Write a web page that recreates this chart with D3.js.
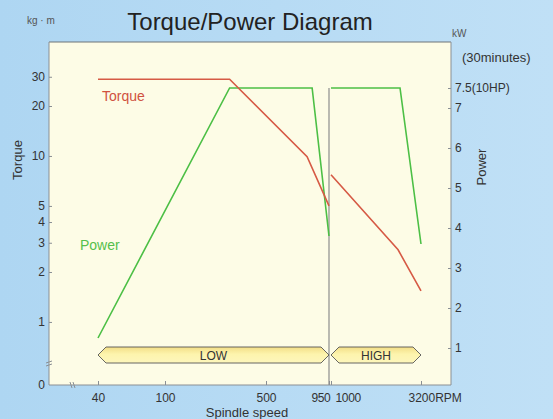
<!DOCTYPE html>
<html>
<head>
<meta charset="utf-8">
<script src="https://cdn.jsdelivr.net/npm/d3@7"></script>
<style>
  body { margin: 0; background: #b9dcf4; }
  svg { display: block; font-family: "Liberation Sans", Arial, sans-serif; }
</style>
</head>
<body>
<div id="chart"></div>
<script>
var svgWidth = 553;
var svgHeight = 419;

// data
var rpmTicks = [40, 100, 500, 950, 1000, 3200];
var torqueTicks = [1, 2, 3, 4, 5, 10, 20, 30];
var powerTicks = [1, 2, 3, 4, 5, 6, 7, 7.5];

var torqueLow = [[40, 29], [280, 29], [760, 9.9], [950, 5.0]];
var torqueHigh = [[1000, 7.7], [2380, 2.72], [3200, 1.54]];
var powerLow = [[40, 1.25], [280, 7.5], [800, 7.5], [950, 3.8]];
var powerHigh = [[1000, 7.5], [2440, 7.5], [3200, 3.6]];
var gearRanges = [
  { label: "LOW", from: 40, to: 950 },
  { label: "HIGH", from: 1000, to: 3200 }
];

var plot = { left: 49, right: 451, top: 42, bottom: 385 };

var svg = d3.select("#chart")
  .append("svg")
  .attr("width", svgWidth)
  .attr("height", svgHeight);

// page gradient
var defs = svg.append("defs");
var bg = defs.append("linearGradient").attr("id", "bg").attr("x1", 0).attr("x2", 1).attr("y1", 0).attr("y2", 0);
bg.append("stop").attr("offset", "0%").attr("stop-color", "#aed6f2");
bg.append("stop").attr("offset", "100%").attr("stop-color", "#c0e0f6");
var band = defs.append("linearGradient").attr("id", "band").attr("x1", 0).attr("x2", 0).attr("y1", 0).attr("y2", 1);
band.append("stop").attr("offset", "0%").attr("stop-color", "#f3de86");
band.append("stop").attr("offset", "45%").attr("stop-color", "#fdf4ad");
band.append("stop").attr("offset", "100%").attr("stop-color", "#fdf6bc");

svg.append("rect").attr("width", svgWidth).attr("height", svgHeight).attr("fill", "url(#bg)");

// scales: x is a schematic (piecewise log) rpm axis, torque log with broken bottom
var xScale = d3.scaleLog()
  .domain(rpmTicks)
  .range([98, 165, 266, 329, 331, 421]);

var yTorque = d3.scaleLog()
  .domain([0.417, 48.6])
  .range([plot.bottom, plot.top]);

var yPower = d3.scaleLinear()
  .domain([0.075, 8.65])
  .range([plot.bottom, plot.top]);

// plot area
svg.append("rect")
  .attr("x", plot.left)
  .attr("y", plot.top)
  .attr("width", plot.right - plot.left)
  .attr("height", plot.bottom - plot.top)
  .attr("fill", "#fdfce6");

svg.append("line")
  .attr("x1", plot.left).attr("x2", plot.right)
  .attr("y1", plot.top).attr("y2", plot.top)
  .attr("stroke", "#6f7478").attr("stroke-width", 1);

// axes
var xAxis = d3.axisBottom(xScale).tickValues(rpmTicks).tickSize(4).tickFormat(d => d);
var gx = svg.append("g")
  .attr("transform", `translate(0,${plot.bottom})`)
  .call(xAxis);
gx.select(".domain").attr("d", `M${plot.left},0H${plot.right}`);
gx.selectAll(".tick line").attr("y2", -4);
gx.selectAll(".tick text")
  .attr("y", 8)
  .attr("font-size", 12)
  .attr("font-family", "Liberation Sans, Arial, sans-serif")
  .attr("fill", "#333");
gx.selectAll(".tick").filter(d => d === 950).select("text").attr("text-anchor", "end").attr("dx", 1).attr("letter-spacing", -0.3);
gx.selectAll(".tick").filter(d => d === 1000).select("text").attr("text-anchor", "start").attr("dx", 4).attr("letter-spacing", -0.3);
gx.selectAll(".tick").filter(d => d === 3200).select("text").attr("text-anchor", "start").attr("dx", -13).text("3200RPM");

var yAxisL = d3.axisLeft(yTorque).tickValues(torqueTicks).tickSize(3).tickFormat(d => d);
var gl = svg.append("g")
  .attr("transform", `translate(${plot.left},0)`)
  .call(yAxisL);
gl.select(".domain").attr("d", `M0,${plot.top}V${plot.bottom}`);
gl.selectAll(".tick line").attr("x2", 3);
gl.selectAll(".tick text").attr("x", -4).attr("font-size", 12).attr("font-family", "Liberation Sans, Arial, sans-serif").attr("fill", "#333");
gl.append("text")
  .attr("x", -4).attr("y", plot.bottom).attr("dy", "0.32em")
  .attr("text-anchor", "end").attr("font-size", 12).attr("fill", "#333")
  .text("0");

var yAxisR = d3.axisRight(yPower).tickValues(powerTicks).tickSize(3)
  .tickFormat(d => d === 7.5 ? "7.5(10HP)" : d);
var gr = svg.append("g")
  .attr("transform", `translate(${plot.right},0)`)
  .call(yAxisR);
gr.select(".domain").attr("d", `M0,${plot.top}V${plot.bottom}`);
gr.selectAll(".tick line").attr("x2", -3);
gr.selectAll(".tick text").attr("x", 4).attr("font-size", 12).attr("font-family", "Liberation Sans, Arial, sans-serif").attr("fill", "#333");

svg.selectAll(".domain, .tick line").attr("stroke", "#8a8f94");

// axis break marks
svg.append("path")
  .attr("d", `M70,${plot.bottom - 3}l2,6M73,${plot.bottom - 3}l2,6M${plot.left - 3},363l6,-2M${plot.left - 3},366l6,-2`)
  .attr("stroke", "#8a8f94").attr("fill", "none");

// gear change line
svg.append("line")
  .attr("x1", xScale(950)).attr("x2", xScale(950))
  .attr("y1", yPower(7.5)).attr("y2", plot.bottom)
  .attr("stroke", "#8d8d8d").attr("stroke-width", 1.2);

// gear range arrows
var bandTop = 347, bandBottom = 363, bandMid = 355, tip = 8;
gearRanges.forEach(function(r) {
  var x0 = xScale(r.from), x1 = xScale(r.to);
  svg.append("path")
    .attr("d", `M${x0},${bandMid}L${x0 + tip},${bandTop}H${x1 - tip}L${x1},${bandMid}L${x1 - tip},${bandBottom}H${x0 + tip}Z`)
    .attr("fill", "url(#band)")
    .attr("stroke", "#555")
    .attr("stroke-width", 0.9);
  svg.append("text")
    .attr("x", (x0 + x1) / 2)
    .attr("y", bandMid + 4.5)
    .attr("text-anchor", "middle")
    .attr("font-size", 12)
    .attr("fill", "#333")
    .text(r.label);
});

// curves
var torqueLine = d3.line().x(d => xScale(d[0])).y(d => yTorque(d[1]));
var powerLine = d3.line().x(d => xScale(d[0])).y(d => yPower(d[1]));

[powerLow, powerHigh].forEach(function(s) {
  svg.append("path").datum(s)
    .attr("d", powerLine)
    .attr("fill", "none")
    .attr("stroke", "#4cbf45")
    .attr("stroke-width", 1.6);
});
[torqueLow, torqueHigh].forEach(function(s) {
  svg.append("path").datum(s)
    .attr("d", torqueLine)
    .attr("fill", "none")
    .attr("stroke", "#d65a45")
    .attr("stroke-width", 1.6);
});

// labels
svg.append("text")
  .attr("x", 102).attr("y", 101)
  .attr("font-size", 14).attr("fill", "#d0523f")
  .text("Torque");
svg.append("text")
  .attr("x", 80).attr("y", 250)
  .attr("font-size", 14).attr("fill", "#55c04c")
  .text("Power");

svg.append("text")
  .attr("x", 250).attr("y", 30)
  .attr("text-anchor", "middle")
  .attr("font-size", 24)
  .attr("fill", "#222")
  .text("Torque/Power Diagram");

svg.append("text")
  .attr("x", 27).attr("y", 24)
  .attr("font-size", 10).attr("fill", "#555")
  .text("kg · m");

svg.append("text")
  .attr("x", 452).attr("y", 37)
  .attr("font-size", 10).attr("fill", "#555")
  .text("kW");

svg.append("text")
  .attr("x", 462).attr("y", 62)
  .attr("font-size", 13).attr("fill", "#333")
  .text("(30minutes)");

svg.append("text")
  .attr("transform", "translate(22,160) rotate(-90)")
  .attr("text-anchor", "middle")
  .attr("font-size", 13).attr("fill", "#333")
  .text("Torque");

svg.append("text")
  .attr("transform", "translate(486,167) rotate(-90)")
  .attr("text-anchor", "middle")
  .attr("font-size", 13).attr("fill", "#333")
  .text("Power");

svg.append("text")
  .attr("x", 247).attr("y", 417)
  .attr("text-anchor", "middle")
  .attr("font-size", 13).attr("fill", "#333")
  .text("Spindle speed");
</script>
</body>
</html>
